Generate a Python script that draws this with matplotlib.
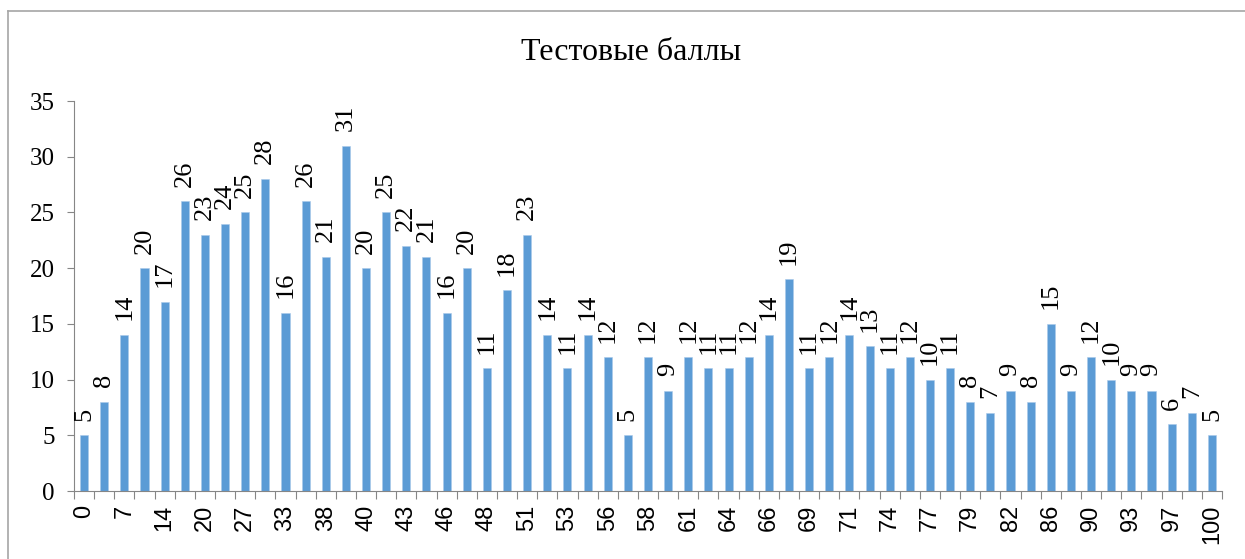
import matplotlib
matplotlib.use("Agg")
import matplotlib.pyplot as plt
from matplotlib.lines import Line2D

# Test scores (categories) and number of students per score
scores = ["0", "3", "7", "10", "14", "17", "20", "23", "27", "30",
          "33", "36", "38", "39", "40", "42", "43", "45", "46", "47",
          "48", "50", "51", "52", "53", "55", "56", "57", "58", "60",
          "61", "62", "64", "65", "66", "68", "69", "70", "71", "73",
          "74", "76", "77", "78", "79", "81", "82", "84", "86", "88",
          "90", "92", "93", "95", "97", "98", "100"]
counts = [5, 8, 14, 20, 17, 26, 23, 24, 25, 28,
          16, 26, 21, 31, 20, 25, 22, 21, 16, 20,
          11, 18, 23, 14, 11, 14, 12, 5, 12, 9,
          12, 11, 11, 12, 14, 19, 11, 12, 14, 13,
          11, 12, 10, 11, 8, 7, 9, 8, 15, 9,
          12, 10, 9, 9, 6, 7, 5]
title = "Тестовые баллы"

W, H = 1245, 559
fig = plt.figure(figsize=(W / 100, H / 100), dpi=100)
ax = fig.add_axes([74 / W, 1 - 491 / H, (1222 - 74) / W, (491 - 101) / H])

# outer chart border: only the left and top edges show in the reference
bx, by = 8 / W, 1 - 11 / H
fig.lines.append(Line2D([bx, bx], [-0.1, by], transform=fig.transFigure,
                        color="#a6a6a6", linewidth=1.2))
fig.lines.append(Line2D([bx, 1.1], [by, by], transform=fig.transFigure,
                        color="#a6a6a6", linewidth=1.2))

x = list(range(len(counts)))
ax.bar(x, counts, width=0.4, color="#5b9bd5", edgecolor="#a9c9ea",
       linewidth=0.4)

for xi, v in zip(x, counts):
    ax.annotate(str(v), (xi, v), xytext=(0, 10.5), textcoords="offset points",
                rotation=90, ha="center", va="bottom",
                fontsize=19, family="Liberation Serif", color="black")

ax.set_xlim(-0.5, len(counts) - 0.5)
ax.set_ylim(0, 35)
ax.set_yticks(range(0, 36, 5))
ax.set_yticklabels([str(v) for v in range(0, 36, 5)],
                   fontsize=18, family="Liberation Serif")
ax.tick_params(axis="y", length=5, width=0.8, color="#868686", pad=9)

ax.set_xticks(x)
ax.set_xticklabels([s if i % 2 == 0 else "" for i, s in enumerate(scores)],
                   rotation=90, fontsize=17, family="Liberation Sans",
                   va="top", ha="center")
ax.tick_params(axis="x", which="major", length=0, pad=10)
ax.set_xticks([i - 0.5 for i in range(len(counts) + 1)], minor=True)
ax.tick_params(axis="x", which="minor", length=6, width=0.8,
               color="#868686")

for side in ("top", "right"):
    ax.spines[side].set_visible(False)
for side in ("left", "bottom"):
    ax.spines[side].set_color("#868686")
    ax.spines[side].set_linewidth(0.8)

fig.text(631 / W, 1 - 60 / H, title, ha="center", va="baseline",
         fontsize=23, family="Liberation Serif")

fig.savefig("out.png", dpi=100)
